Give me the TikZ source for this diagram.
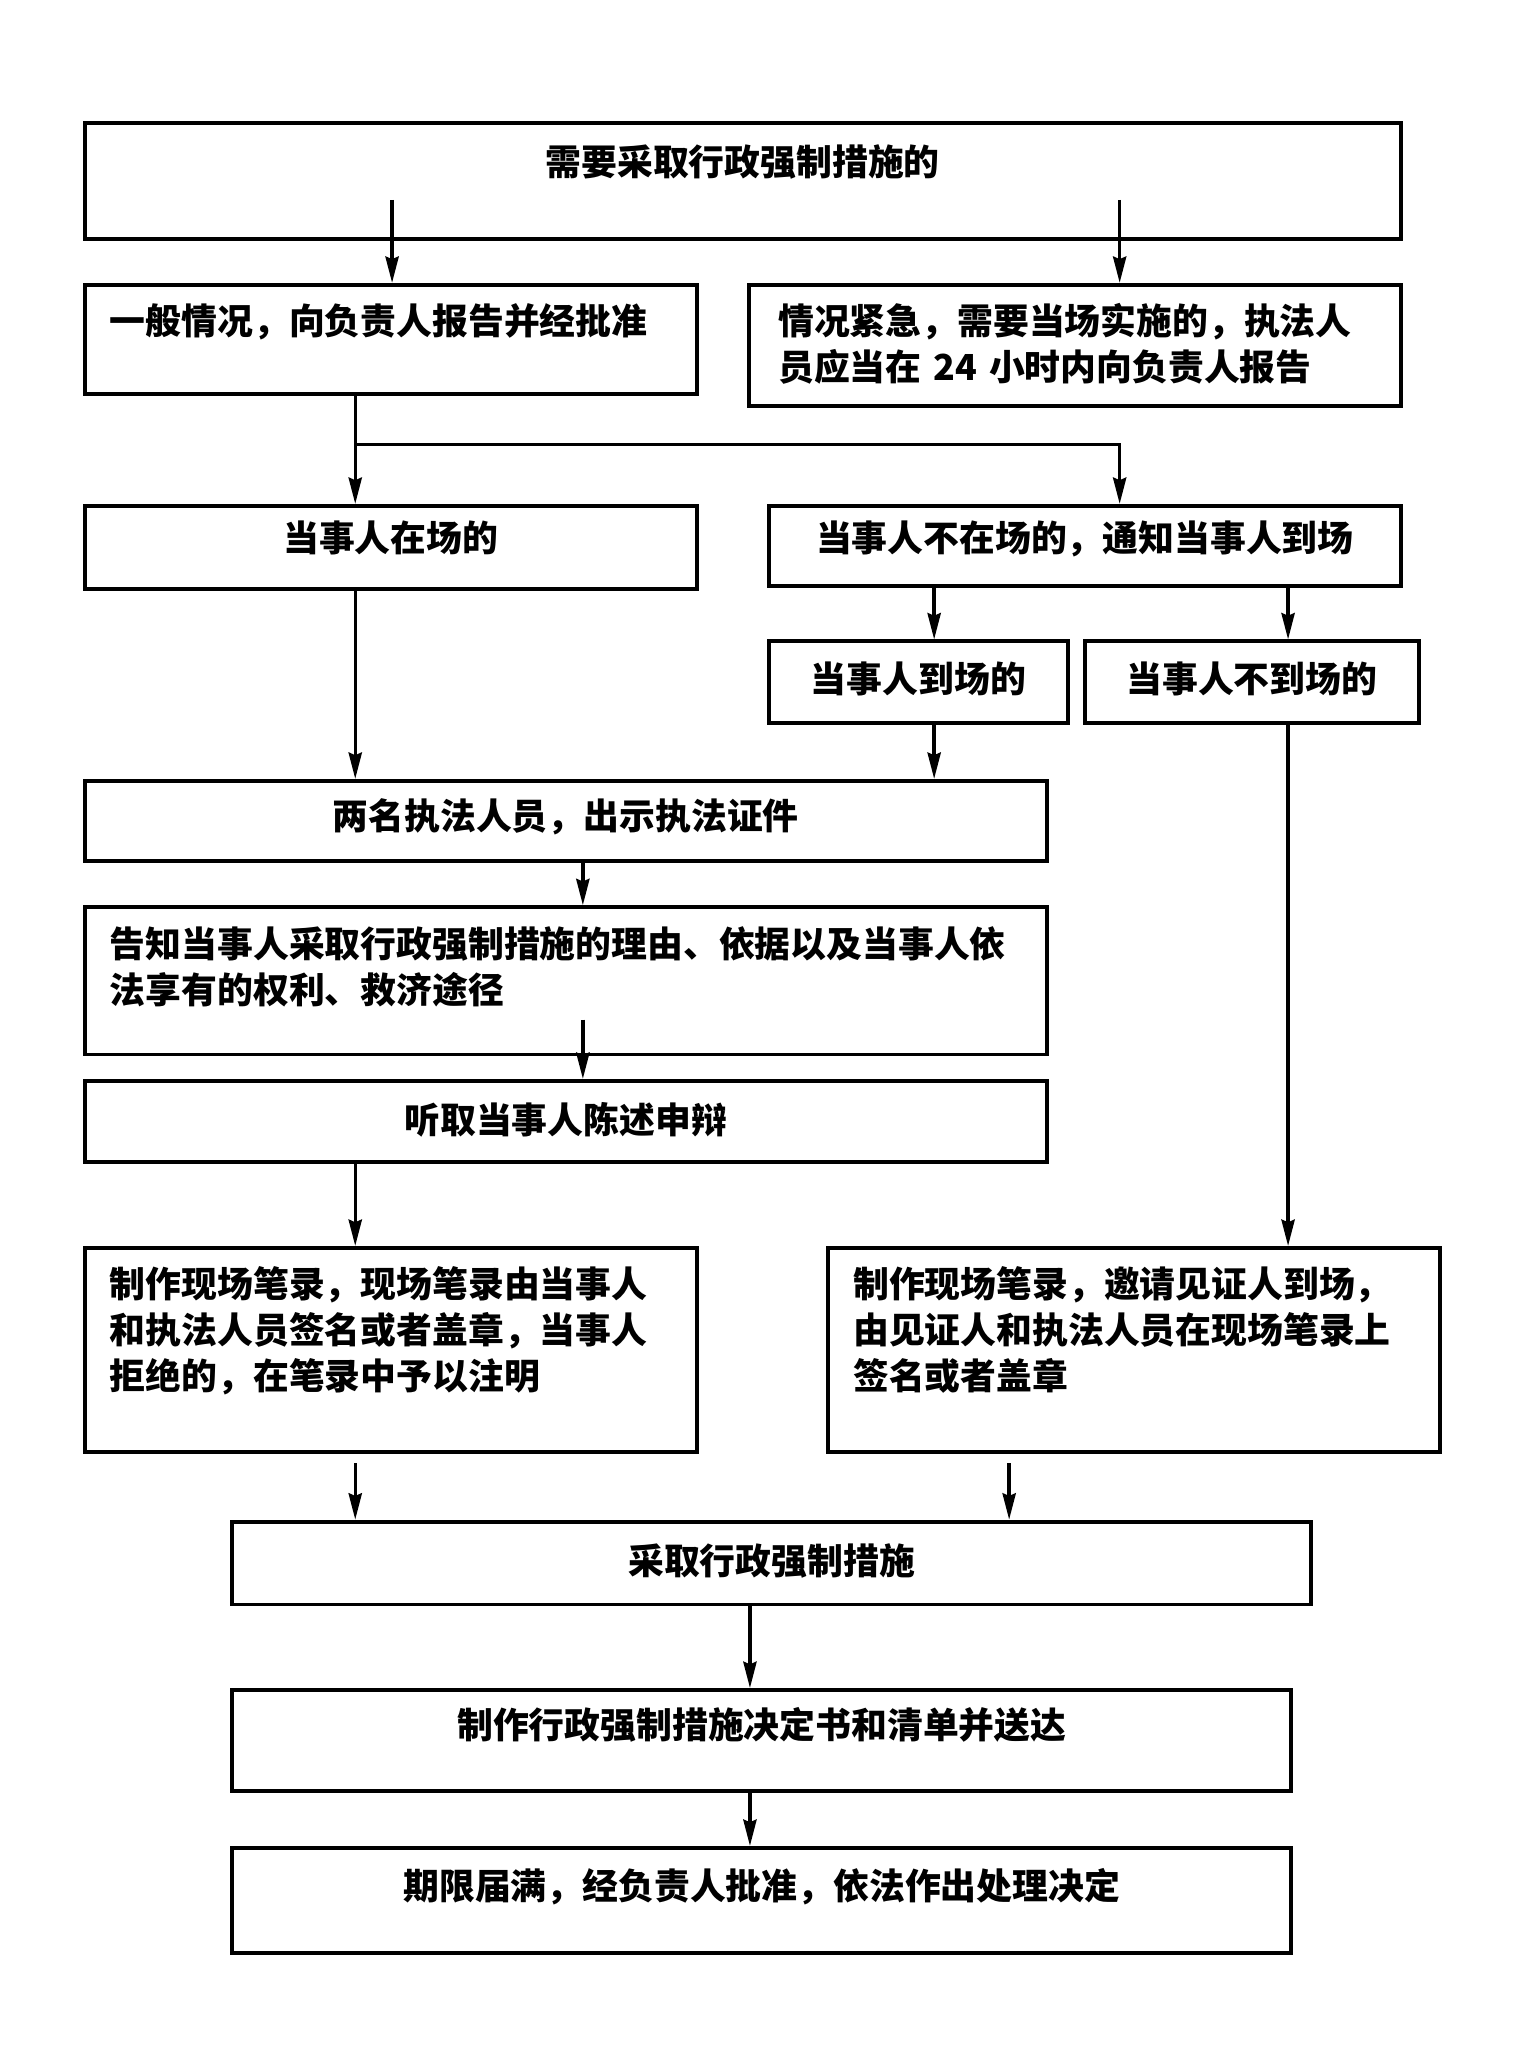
\documentclass[tikz,border=0pt]{standalone}
\usepackage{fontspec}
\setmainfont{Noto Sans CJK SC}
\usepackage{tikz}
\usetikzlibrary{positioning, arrows.meta, calc}
\tikzstyle{process} = [rectangle, draw=black, line width=1.7pt, anchor=north west, inner xsep=0.38cm, inner ysep=0pt, font=\bfseries\fontsize{15.5pt}{19.9pt}\selectfont]
\tikzstyle{arrow} = [line width=1.5pt, -{Stealth[length=0.40cm, width=0.20cm, inset=0.04cm]}]

\begin{document}
\begin{tikzpicture}
		\useasboundingbox (0,0) rectangle (23.34,-31.36);
		%各个方框
		\node (need) [process, align=center, text width=19.24cm, text height=0.80cm, text depth=0.96cm] at (1.26,-1.84) {需要采取行政强制措施的};
		\node (normal) [process, align=left, text width=8.54cm, text height=0.76cm, text depth=0.90cm] at (1.26,-4.30) {一般情况，向负责人报告并经批准};
		\node (urgent) [process, align=left, inner xsep=0.44cm, text width=9.02cm, text height=0.76cm, text depth=1.08cm] at (11.36,-4.30) {情况紧急，需要当场实施的，执法人\\员应当在 24 小时内向负责人报告};
		\node (present) [process, align=center, text width=8.54cm, text height=0.70cm, text depth=0.56cm] at (1.26,-7.66) {当事人在场的};
		\node (absent) [process, align=center, text width=8.84cm, text height=0.70cm, text depth=0.52cm] at (11.66,-7.66) {当事人不在场的，通知当事人到场};
		\node (arrive) [process, align=center, text width=3.78cm, text height=0.78cm, text depth=0.46cm] at (11.66,-9.72) {当事人到场的};
		\node (noarrive) [process, align=center, text width=4.32cm, text height=0.78cm, text depth=0.46cm] at (16.46,-9.72) {当事人不到场的};
		\node (show) [process, align=center, text width=13.86cm, text height=0.74cm, text depth=0.48cm] at (1.26,-11.84) {两名执法人员，出示执法证件};
		\node (inform) [process, align=left, text width=13.86cm, text height=0.76cm, text depth=1.48cm] at (1.26,-13.76) {告知当事人采取行政强制措施的理由、依据以及当事人依\\法享有的权利、救济途径};
		\node (listen) [process, align=center, text width=13.86cm, text height=0.80cm, text depth=0.44cm] at (1.26,-16.40) {听取当事人陈述申辩};
		\node (recordA) [process, align=left, text width=8.54cm, text height=0.76cm, text depth=2.34cm] at (1.26,-18.94) {制作现场笔录，现场笔录由当事人\\和执法人员签名或者盖章，当事人\\拒绝的，在笔录中予以注明};
		\node (recordB) [process, align=left, text width=8.54cm, text height=0.76cm, text depth=2.34cm] at (12.56,-18.94) {制作现场笔录，邀请见证人到场，\\由见证人和执法人员在现场笔录上\\签名或者盖章};
		\node (take) [process, align=center, text width=15.64cm, text height=0.80cm, text depth=0.46cm] at (3.50,-23.10) {采取行政强制措施};
		\node (decide) [process, align=center, text width=15.34cm, text height=0.74cm, text depth=0.80cm] at (3.50,-25.66) {制作行政强制措施决定书和清单并送达};
		\node (expire) [process, align=center, text width=15.34cm, text height=0.78cm, text depth=0.82cm] at (3.50,-28.06) {期限届满，经负责人批准，依法作出处理决定};
		
		%连线用到的点
		\coordinate (needL) at (5.96,-3.04);
		\coordinate (needR) at (17.02,-3.04);
		\coordinate (split) at (5.40,-6.76);
		\coordinate (c1) at (14.20,0);
		\coordinate (c2) at (19.58,0);
		\coordinate (c3) at (8.86,0);
		\coordinate (c4) at (11.40,0);
		\coordinate (informOut) at (8.86,-15.50);
		\coordinate (recL) at (5.40,-22.24);
		\coordinate (recR) at (15.34,-22.24);
		
		%连接各个方框
		\draw [arrow] (needL) -- (needL |- normal.north);
		\draw [arrow] (needR) -- (needR |- urgent.north);
		\draw [arrow] (normal.south -| split) -- (split |- present.north);
		\draw [arrow] (split) -| (needR |- absent.north);
		\draw [arrow] (absent.south -| c1) -- (arrive.north -| c1);
		\draw [arrow] (absent.south -| c2) -- (noarrive.north -| c2);
		\draw [arrow] (present.south -| split) -- (show.north -| split);
		\draw [arrow] (arrive.south -| c1) -- (show.north -| c1);
		\draw [arrow] (show.south -| c3) -- (inform.north -| c3);
		\draw [arrow] (informOut) -- (listen.north -| c3);
		\draw [arrow] (listen.south -| split) -- (recordA.north -| split);
		\draw [arrow] (noarrive.south -| c2) -- (recordB.north -| c2);
		\draw [arrow] (recL) -- (take.north -| recL);
		\draw [arrow] (recR) -- (take.north -| recR);
		\draw [arrow] (take.south -| c4) -- (decide.north -| c4);
		\draw [arrow] (decide.south -| c4) -- (expire.north -| c4);
		
	\end{tikzpicture}
\end{document}
